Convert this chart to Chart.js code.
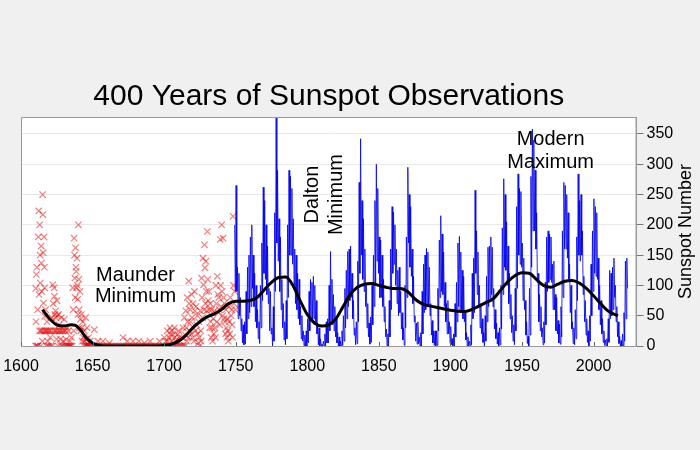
<!DOCTYPE html>
<html>
<head>
<meta charset="utf-8">
<script src="https://cdn.jsdelivr.net/npm/chart.js@4/dist/chart.umd.min.js"></script>
<style>
  body { margin: 0; background: #f0f0f0; }
  canvas { display: block; }
</style>
</head>
<body>
<canvas id="sunspots" width="700" height="450"></canvas>
<script>
// monthly sunspot number, yearly high / low of the monthly values (1749 - 2023)
const firstYear = 1749;
const monthlyHigh = [
  200, 265, 130, 120, 80, 45, 35, 40, 90, 130,
  150, 180, 200, 150, 120, 100, 60, 40, 100, 170,
  262, 240, 200, 165, 95, 90, 30, 65, 220, 377,
  290, 210, 180, 110, 70, 40, 75, 200, 290, 280,
  260, 210, 160, 150, 120, 110, 65, 50, 25, 18,
  25, 45, 90, 110, 105, 115, 100, 75, 35, 30,
  12, 3, 8, 20, 40, 45, 100, 156, 110, 85,
  65, 45, 22, 15, 8, 25, 50, 95, 125, 156,
  160, 165, 120, 75, 30, 40, 140, 270, 342, 240,
  210, 160, 100, 70, 38, 48, 100, 150, 240, 300,
  260, 180, 175, 150, 110, 65, 28, 20, 75, 160,
  230, 221, 200, 160, 125, 130, 90, 55, 30, 100,
  180, 295, 250, 230, 160, 115, 50, 38, 40, 15,
  22, 90, 135, 150, 161, 155, 130, 70, 42, 25,
  25, 25, 95, 175, 215, 185, 155, 105, 70, 75,
  40, 32, 12, 20, 70, 105, 170, 181, 155, 125,
  115, 55, 22, 15, 8, 35, 120, 145, 257, 190,
  155, 100, 70, 45, 22, 50, 115, 163, 165, 180,
  163, 95, 60, 38, 22, 30, 100, 195, 276, 250,
  205, 165, 120, 85, 50, 35, 95, 230, 284, 260,
  255, 170, 145, 75, 40, 16, 95, 280, 358, 340,
  290, 220, 120, 85, 65, 30, 40, 105, 180, 190,
  185, 180, 135, 140, 85, 80, 42, 36, 65, 190,
  270, 265, 250, 220, 135, 100, 40, 30, 60, 180,
  284, 240, 250, 190, 115, 75, 45, 25, 50, 135,
  190, 243, 230, 220, 145, 100, 75, 45, 25, 10,
  12, 45, 125, 120, 130, 145, 100, 65, 40, 16,
  9, 20, 55, 140, 145
];
const monthlyLow = [
  90, 90, 45, 50, 25, 5, 2, 3, 20, 45,
  55, 65, 95, 65, 40, 30, 12, 4, 30, 75,
  120, 110, 85, 70, 25, 20, 0, 8, 90, 170,
  140, 90, 60, 30, 10, 2, 12, 80, 150, 150,
  135, 100, 70, 60, 45, 35, 12, 8, 0, 0,
  0, 5, 25, 40, 40, 45, 40, 20, 2, 0,
  0, 0, 0, 0, 5, 5, 25, 40, 35, 25,
  15, 5, 0, 0, 0, 1, 8, 30, 45, 65,
  75, 80, 45, 18, 2, 4, 40, 120, 150, 110,
  90, 65, 30, 15, 3, 6, 35, 65, 100, 140,
  120, 80, 80, 65, 40, 15, 0, 0, 15, 60,
  120, 135, 100, 70, 50, 55, 28, 10, 1, 30,
  80, 170, 130, 115, 70, 40, 8, 3, 4, 0,
  0, 20, 55, 60, 65, 65, 50, 18, 5, 1,
  0, 1, 25, 80, 90, 85, 65, 40, 20, 20,
  4, 2, 0, 0, 15, 40, 65, 55, 60, 45,
  40, 10, 0, 0, 0, 2, 45, 55, 120, 85,
  65, 30, 20, 6, 0, 8, 40, 65, 75, 85,
  65, 28, 12, 3, 0, 2, 28, 85, 130, 125,
  100, 70, 45, 22, 8, 2, 25, 95, 150, 135,
  130, 75, 60, 18, 4, 0, 18, 130, 190, 190,
  160, 105, 40, 25, 15, 2, 5, 35, 90, 105,
  110, 105, 60, 60, 25, 20, 5, 3, 15, 80,
  160, 160, 145, 110, 55, 28, 4, 2, 12, 75,
  150, 140, 150, 85, 40, 18, 6, 0, 8, 50,
  90, 120, 115, 110, 60, 35, 20, 6, 1, 0,
  0, 6, 45, 50, 60, 80, 40, 15, 4, 0,
  0, 0, 8, 45, 95
];

// early telescopic observations (year, values seen in that year)
const groupObs = [
  [1610, [0, 95, 40, 118, 0]], [1611, [130, 0, 60, 0]], [1612, [180, 223, 85, 25]],
  [1613, [200, 150, 104, 0, 25]], [1614, [165, 137, 90, 25, 8]], [1615, [250, 217, 154, 71, 25]],
  [1616, [180, 130, 96, 49, 25]], [1617, [60, 25, 0]], [1618, [40, 25, 8, 0]], [1619, [25, 0]],
  [1620, [25, 14, 0]], [1621, [25, 47, 0]], [1622, [101, 70, 25]], [1623, [96, 82, 52, 25]],
  [1624, [58, 47, 25, 11]], [1625, [75, 50, 25, 0]], [1626, [52, 35, 25]], [1627, [25, 11, 0]],
  [1628, [47, 25, 0]], [1629, [25, 8, 0]], [1630, [44, 25, 0]], [1631, [25, 11, 0]],
  [1632, [30, 0, 0]], [1633, [25, 0, 0]], [1634, [8, 0, 0]], [1635, [14, 0]],
  [1636, [96, 60, 25]], [1637, [178, 150, 112, 80]], [1638, [162, 130, 123, 96]],
  [1639, [145, 100, 77, 52]], [1640, [200, 110, 60, 30]], [1641, [90, 44, 25]],
  [1642, [52, 30, 8]], [1643, [40, 14, 0]], [1644, [25, 8, 0]], [1645, [47, 11, 0, 0]],
  [1646, [30, 3, 0, 0]], [1647, [14, 0, 0]], [1648, [8, 0]], [1649, [0]], [1650, [0]], [1651, [27, 0]],
  [1652, [0]], [1653, [0, 8]], [1654, [0]], [1655, [0]], [1656, [0]], [1657, [8, 0]], [1658, [0]],
  [1659, [0]], [1660, [0]], [1661, [0, 5]], [1662, [0]], [1663, [0]], [1664, [0]],
  [1665, [0]], [1666, [0]], [1667, [0]], [1668, [0]], [1669, [0]], [1670, [0]], [1671, [14, 0]],
  [1672, [0]], [1673, [0]], [1674, [8, 0]], [1675, [0]],
  [1676, [0]], [1677, [0]], [1678, [8, 0]], [1679, [0]], [1680, [0]], [1681, [0]], [1682, [8, 0]],
  [1683, [0]], [1684, [0]], [1685, [0]], [1686, [5, 0]], [1687, [0]],
  [1688, [0]], [1689, [0]], [1690, [8, 0]], [1691, [0]], [1692, [0]], [1693, [0]], [1694, [0]],
  [1695, [0]], [1696, [0, 8]], [1697, [0]], [1698, [0]], [1699, [0]],
  [1700, [14, 0]], [1701, [8, 0]], [1702, [25, 8, 0]], [1703, [14, 0]], [1704, [30, 19, 0]],
  [1705, [25, 8, 0]], [1706, [19, 3, 0]], [1707, [30, 14, 0]], [1708, [8, 0]], [1709, [19, 0]],
  [1710, [25, 14, 0]], [1711, [8, 0]], [1712, [14, 0]], [1713, [30, 0]], [1714, [47, 19, 0]],
  [1715, [58, 30, 8]], [1716, [80, 40, 14]], [1717, [107, 70, 25]], [1718, [60, 40, 20]],
  [1719, [85, 47, 14]], [1720, [70, 30, 8]], [1721, [90, 58, 25]], [1722, [65, 35]],
  [1723, [50, 20, 5]], [1724, [40, 14, 0]], [1725, [58, 25, 8]], [1726, [112, 80, 47]],
  [1727, [145, 101, 60]], [1728, [167, 129, 70]], [1729, [140, 90, 58]], [1730, [189, 110, 75]],
  [1731, [90, 60, 30]], [1732, [70, 40, 14]], [1733, [60, 30, 8]], [1734, [45, 20]],
  [1735, [58, 30, 14]], [1736, [100, 70, 40]], [1737, [115, 85, 55]], [1738, [80, 60, 35]],
  [1739, [176, 100, 65]], [1740, [200, 90, 50]], [1741, [178, 80, 45]], [1742, [70, 40, 20]],
  [1743, [60, 30, 14]], [1744, [45, 25, 8]], [1745, [65, 40, 20]], [1746, [80, 50]],
  [1747, [60, 35, 14]], [1748, [214, 100, 70]], [1749, [90, 60]]
];

// smoothed curve
const smoothYears = [1615, 1620, 1625, 1630, 1635, 1638, 1642, 1645, 1650, 1655, 1660, 1670, 1680, 1690,
  1700, 1705, 1710, 1715, 1720, 1725, 1730, 1735, 1740, 1745, 1750, 1755, 1760, 1765, 1770, 1775,
  1780, 1785, 1790, 1795, 1800, 1805, 1810, 1815, 1820, 1825, 1830, 1835, 1840, 1845, 1850, 1855,
  1860, 1865, 1870, 1875, 1880, 1890, 1900, 1910, 1920, 1925, 1930, 1935, 1940, 1945, 1950, 1955,
  1960, 1965, 1970, 1975, 1980, 1985, 1990, 1995, 2000, 2005, 2010, 2017];
const smoothValues = [60, 45, 35, 33, 35, 34, 25, 15, 5, 1, 0, 0, 0, 0,
  1, 3, 8, 17, 30, 40, 48, 53, 60, 70, 74, 74, 75, 80, 93, 105,
  113, 114, 100, 75, 52, 38, 33, 35, 45, 65, 85, 97, 102, 103, 100, 97,
  95, 95, 90, 78, 70, 64, 59, 57, 66, 72, 78, 92, 106, 116, 121, 120,
  110, 100, 97, 102, 107, 108, 104, 95, 83, 70, 58, 50];

const yTicks = [0, 50, 100, 150, 200, 250, 300, 350];
const xTicks = [1600, 1650, 1700, 1750, 1800, 1850, 1900, 1950, 2000];

// build point lists
let monthlyPts = [];
monthlyHigh.forEach((v, i) => {
  monthlyPts.push({x: firstYear + i + 0.25, y: v});
  monthlyPts.push({x: firstYear + i + 0.75, y: monthlyLow[i]});
});
let groupPts = [];
groupObs.forEach(row => {
  row[1].forEach((v, j) => {
    groupPts.push({x: row[0] + (j + 0.5) / row[1].length, y: v});
  });
});
let smoothPts = smoothYears.map((yr, i) => ({x: yr, y: smoothValues[i]}));

const FONT = "'Liberation Sans', Arial, sans-serif";

// background, frame, inner x ticks and the text notes
const decorations = {
  id: 'decorations',
  beforeDraw(chart) {
    const c = chart.ctx, a = chart.chartArea;
    c.save();
    c.fillStyle = '#f0f0f0';
    c.fillRect(0, 0, chart.width, chart.height);
    c.fillStyle = '#ffffff';
    c.fillRect(a.left, a.top, a.right - a.left, a.bottom - a.top);
    c.restore();
  },
  afterDatasetsDraw(chart) {
    const c = chart.ctx, a = chart.chartArea;
    const xs = chart.scales.x, ys = chart.scales.y;
    c.save();
    c.strokeStyle = '#9a9a9a';
    c.lineWidth = 1;
    c.strokeRect(a.left + 0.5, a.top + 0.5, a.right - a.left - 1, a.bottom - a.top);
    c.strokeStyle = '#666';
    xTicks.forEach(t => {
      const px = Math.round(xs.getPixelForValue(t)) + 0.5;
      c.beginPath();
      c.moveTo(px, a.bottom);
      c.lineTo(px, a.bottom - 4);
      c.stroke();
    });

    c.fillStyle = '#000';
    c.font = '20px ' + FONT;
    c.textAlign = 'center';
    c.textBaseline = 'alphabetic';
    let x = xs.getPixelForValue(1680), y = ys.getPixelForValue(107);
    c.fillText('Maunder', x, y);
    c.fillText('Minimum', x, y + 21);
    x = xs.getPixelForValue(1970); y = ys.getPixelForValue(331);
    c.fillText('Modern', x, y);
    c.fillText('Maximum', x, y + 22.5);

    x = xs.getPixelForValue(1807.3); y = ys.getPixelForValue(250);
    c.save();
    c.translate(x, y);
    c.rotate(-Math.PI / 2);
    c.fillText('Dalton', 0, 0);
    c.fillText('Minimum', 0, 24);
    c.restore();

    c.save();
    c.font = '18px ' + FONT;
    c.translate(chart.width - 9, (a.top + a.bottom) / 2);
    c.rotate(-Math.PI / 2);
    c.fillText('Sunspot Number', 0, 0);
    c.restore();
    c.restore();
  }
};

let sunChart = new Chart(document.getElementById('sunspots'), {
  type: 'line',
  data: {
    datasets: [
      {
        label: 'Smoothed',
        data: smoothPts,
        borderColor: '#000',
        borderWidth: 3,
        pointRadius: 0,
        tension: 0.4,
        cubicInterpolationMode: 'monotone',
        order: 0
      },
      {
        label: 'Monthly',
        data: monthlyPts,
        borderColor: 'rgba(0, 0, 235, 0.8)',
        borderWidth: 1,
        pointRadius: 0,
        tension: 0,
        order: 1
      },
      {
        label: 'Group observations',
        data: groupPts,
        showLine: false,
        pointStyle: 'crossRot',
        pointRadius: 4.5,
        borderColor: 'rgba(235, 0, 0, 0.5)',
        pointBorderWidth: 1.2,
        order: 2
      }
    ]
  },
  options: {
    responsive: false,
    animation: false,
    devicePixelRatio: 1,
    layout: { padding: { left: 21, right: 0, top: 0, bottom: 0 } },
    plugins: {
      legend: { display: false },
      tooltip: { enabled: false },
      title: {
        display: true,
        text: '400 Years of Sunspot Observations',
        color: '#000',
        fullSize: false,
        font: { family: FONT, size: 30, weight: 'normal' },
        padding: { top: 79, bottom: 2 }
      }
    },
    scales: {
      x: {
        type: 'linear',
        min: 1600,
        max: 2030,
        afterFit(s) { s.height = 104; },
        afterBuildTicks(s) { s.ticks = xTicks.map(v => ({value: v})); },
        grid: { display: false },
        border: { display: true, color: '#9a9a9a' },
        ticks: {
          autoSkip: false,
          maxRotation: 0,
          padding: 3,
          color: '#000',
          font: { family: FONT, size: 16 },
          callback: v => String(v)
        }
      },
      y: {
        position: 'right',
        min: 0,
        max: 378,
        afterFit(s) { s.width = 63.5; },
        afterBuildTicks(s) { s.ticks = yTicks.map(v => ({value: v})); },
        grid: { color: '#e9e9e9', tickColor: '#777', tickLength: 7 },
        border: { color: '#9a9a9a' },
        ticks: {
          padding: 3,
          color: '#000',
          font: { family: FONT, size: 16 }
        }
      }
    }
  },
  plugins: [decorations]
});
</script>
</body>
</html>
